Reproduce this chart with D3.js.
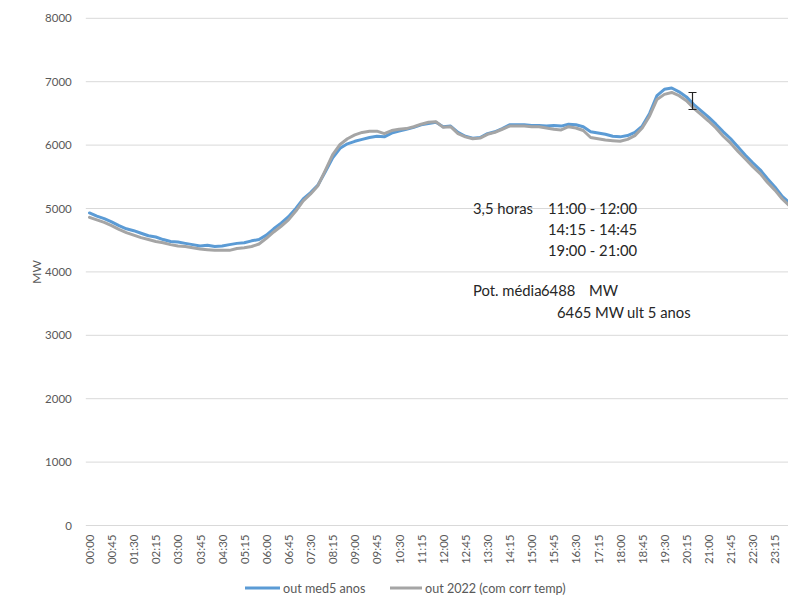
<!DOCTYPE html>
<html>
<head>
<meta charset="utf-8">
<script src="https://cdn.jsdelivr.net/npm/d3@7"></script>
<style>
  html, body { margin: 0; padding: 0; background: #fff; }
  svg { display: block; font-family: Lato, "Open Sans", sans-serif; }
</style>
</head>
<body>
<svg id="chart" width="788" height="601"></svg>
<script>
// Quarter-hour time slots across the day
const times = d3.range(96).map(i => {
  const h = Math.floor(i / 4), m = (i % 4) * 15;
  return String(h).padStart(2, "0") + ":" + String(m).padStart(2, "0");
});

// Average load profile over the last five years (MW)
const med5 = [
  4930, 4880, 4840, 4790, 4730, 4680, 4650, 4610, 4570, 4550, 4510, 4480,
  4470, 4450, 4430, 4410, 4420, 4400, 4410, 4430, 4450, 4460, 4490, 4510,
  4580, 4680, 4770, 4870, 5000, 5150, 5250, 5370, 5580, 5800, 5950, 6020,
  6060, 6090, 6120, 6140, 6130, 6190, 6220, 6250, 6280, 6320, 6340, 6360,
  6290, 6300, 6200, 6140, 6110, 6120, 6180, 6210, 6260, 6320, 6320, 6320,
  6310, 6310, 6300, 6310, 6300, 6330, 6320, 6290, 6210, 6190, 6170, 6140,
  6130, 6150, 6200, 6300, 6500, 6780, 6880, 6900, 6840, 6760, 6640, 6540,
  6440, 6330, 6210, 6100, 5970, 5840, 5720, 5610, 5470, 5340, 5190, 5090
];

// 2022 load profile, temperature corrected (MW)
const y2022 = [
  4860, 4820, 4780, 4730, 4670, 4620, 4580, 4540, 4510, 4480, 4460, 4430,
  4410, 4400, 4380, 4360, 4350, 4340, 4340, 4340, 4370, 4380, 4400, 4440,
  4530, 4630, 4720, 4820, 4960, 5120, 5230, 5360, 5600, 5850, 6010, 6100,
  6160, 6200, 6220, 6220, 6180, 6230, 6250, 6260, 6290, 6330, 6360, 6370,
  6280, 6290, 6180, 6130, 6100, 6110, 6170, 6200, 6250, 6300, 6300, 6300,
  6290, 6290, 6270, 6250, 6240, 6290, 6270, 6230, 6120, 6100, 6080, 6070,
  6060, 6090, 6150, 6270, 6460, 6720, 6800, 6830, 6780, 6700, 6580, 6480,
  6380, 6270, 6140, 6030, 5900, 5780, 5660, 5550, 5410, 5290, 5150, 5040
];

const yTicks = [0, 1000, 2000, 3000, 4000, 5000, 6000, 7000, 8000];
const xTickLabels = times.filter((t, i) => i % 3 === 0);

const seriesNames = ["out med5 anos", "out 2022 (com corr temp)"];
const seriesColors = ["#5b9bd5", "#a5a5a5"];

const notes = [
  { text: "3,5 horas", x: 473, y: 214 },
  { text: "11:00 - 12:00", x: 548, y: 214 },
  { text: "14:15 - 14:45", x: 548, y: 235 },
  { text: "19:00 - 21:00", x: 548, y: 256 },
  { text: "Pot. média", x: 473, y: 296 },
  { text: "6488", x: 541, y: 296 },
  { text: "MW", x: 589, y: 296 },
  { text: "6465", x: 557, y: 318 },
  { text: "MW", x: 595, y: 318 },
  { text: "ult 5 anos", x: 627, y: 318 }
];

const svg = d3.select("#chart");
const plotLeft = 85.8, band = 7.37;
const plotTop = 18.3, plotBottom = 525.5;

const x = d3.scaleBand().domain(times).range([plotLeft, plotLeft + band * times.length]).padding(0);
const y = d3.scaleLinear().domain([0, 8000]).range([plotBottom, plotTop]);
const cx = t => x(t) + x.bandwidth() / 2;

// Horizontal gridlines
svg.append("g")
  .selectAll("line")
  .data(yTicks)
  .join("line")
  .attr("x1", plotLeft).attr("x2", 788)
  .attr("y1", d => y(d)).attr("y2", d => y(d))
  .attr("stroke", "#d9d9d9").attr("stroke-width", 1);

// Value axis
const yAxis = svg.append("g")
  .attr("transform", `translate(${plotLeft},0)`)
  .call(d3.axisLeft(y).tickValues(yTicks).tickSize(0).tickPadding(14).tickFormat(d3.format("d")));
yAxis.select(".domain").remove();
yAxis.selectAll("text")
  .attr("fill", "#595959")
  .style("font-size", "11.5px")
  .style("font-family", "Lato, sans-serif");

// Time axis with rotated labels
const xAxis = svg.append("g")
  .attr("transform", `translate(0,${plotBottom})`)
  .call(d3.axisBottom(x).tickValues(xTickLabels).tickSize(0));
xAxis.select(".domain").remove();
xAxis.selectAll(".tick text")
  .attr("transform", "translate(0,9) rotate(-90)")
  .attr("x", 0).attr("y", 0).attr("dy", null)
  .attr("text-anchor", "end")
  .attr("dominant-baseline", "central")
  .attr("fill", "#595959")
  .style("font-size", "11.5px")
  .style("font-family", "Lato, sans-serif");

// Axis title
svg.append("text")
  .attr("transform", `translate(36,${(plotTop + plotBottom) / 2}) rotate(-90)`)
  .attr("text-anchor", "middle")
  .attr("dominant-baseline", "central")
  .attr("fill", "#595959")
  .style("font-size", "12px")
  .text("MW");

// Series lines
const line = d3.line().x((d, i) => cx(times[i])).y(d => y(d)).curve(d3.curveLinear);
[med5, y2022].forEach((vals, k) => {
  svg.append("path")
    .datum(vals)
    .attr("fill", "none")
    .attr("stroke", seriesColors[k])
    .attr("stroke-width", 3)
    .attr("stroke-linejoin", "round")
    .attr("stroke-linecap", "round")
    .attr("d", line);
});

// Annotation text
svg.append("g")
  .selectAll("text")
  .data(notes)
  .join("text")
  .attr("x", d => d.x).attr("y", d => d.y)
  .attr("fill", "#262626")
  .style("font-size", "14.8px")
  .text(d => d.text);

// Text cursor
const cur = svg.append("g").attr("stroke", "#222").attr("stroke-width", 1.2).attr("fill", "none");
cur.append("path").attr("d", "M688.5,92.5 H696.5 M692.5,92.5 V109.5 M688.5,109.5 H696.5");

// Legend
const legendItems = [
  { name: seriesNames[0], color: seriesColors[0], x1: 245, x2: 280, tx: 283 },
  { name: seriesNames[1], color: seriesColors[1], x1: 390, x2: 422, tx: 425 }
];
const lg = svg.append("g");
legendItems.forEach(d => {
  lg.append("line")
    .attr("x1", d.x1).attr("x2", d.x2).attr("y1", 588).attr("y2", 588)
    .attr("stroke", d.color).attr("stroke-width", 3);
  lg.append("text")
    .attr("x", d.tx).attr("y", 588)
    .attr("dominant-baseline", "central")
    .attr("fill", "#595959")
    .style("font-size", "12.6px")
    .text(d.name);
});
</script>
</body>
</html>
